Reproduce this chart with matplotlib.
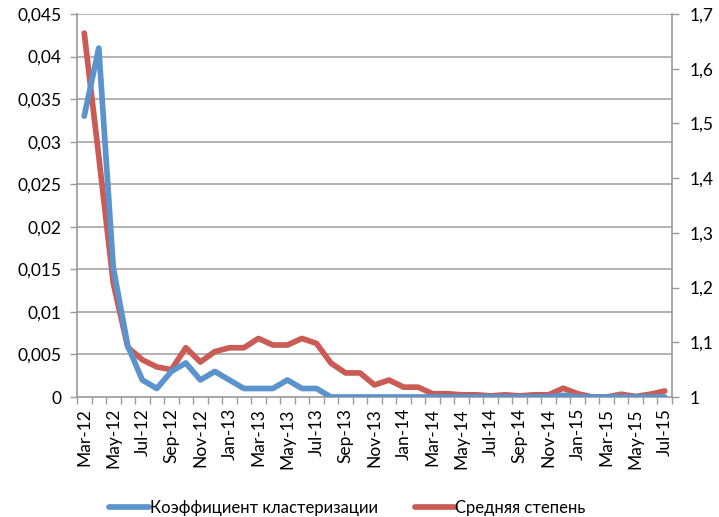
import matplotlib
matplotlib.use("Agg")
import matplotlib.pyplot as plt
import numpy as np

plt.rcParams['font.family'] = ['Lato', 'DejaVu Sans']

months = ["Mar-12", "Apr-12", "May-12", "Jun-12", "Jul-12", "Aug-12", "Sep-12", "Oct-12",
          "Nov-12", "Dec-12", "Jan-13", "Feb-13", "Mar-13", "Apr-13", "May-13", "Jun-13",
          "Jul-13", "Aug-13", "Sep-13", "Oct-13", "Nov-13", "Dec-13", "Jan-14", "Feb-14",
          "Mar-14", "Apr-14", "May-14", "Jun-14", "Jul-14", "Aug-14", "Sep-14", "Oct-14",
          "Nov-14", "Dec-14", "Jan-15", "Feb-15", "Mar-15", "Apr-15", "May-15", "Jun-15",
          "Jul-15"]

clustering = [0.033, 0.041, 0.0152, 0.006, 0.002, 0.001, 0.003, 0.004,
              0.002, 0.003, 0.002, 0.001, 0.001, 0.001, 0.002, 0.001,
              0.001, 0.0, 0.0, 0.0, 0.0, 0.0, 0.0, 0.0,
              0.0, 0.0, 0.0, 0.0, 0.0, 0.0, 0.0, 0.0,
              0.0, 0.0002, 0.0, 0.0, 0.0, 0.0, 0.0, 0.0,
              0.0]

avg_degree = [1.665, 1.44, 1.208, 1.091, 1.068, 1.055, 1.05, 1.09,
              1.064, 1.083, 1.09, 1.09, 1.107, 1.095, 1.095, 1.107,
              1.098, 1.062, 1.044, 1.044, 1.022, 1.031, 1.018, 1.018,
              1.006, 1.006, 1.004, 1.004, 1.002, 1.004, 1.002, 1.004,
              1.004, 1.016, 1.006, 1.0, 1.0, 1.005, 1.001, 1.005,
              1.011]

left_ticks = [0, 0.005, 0.01, 0.015, 0.02, 0.025, 0.03, 0.035, 0.04, 0.045]
left_labels = ["0", "0,005", "0,01", "0,015", "0,02", "0,025", "0,03", "0,035", "0,04", "0,045"]
right_ticks = [1, 1.1, 1.2, 1.3, 1.4, 1.5, 1.6, 1.7]
right_labels = ["1", "1,1", "1,2", "1,3", "1,4", "1,5", "1,6", "1,7"]

name_blue = "Коэффициент кластеризации"
name_red = "Средняя степень"

blue = "#5B93CC"
red = "#CB5B55"
grid_c = "#A6A6A6"
axis_c = "#9A9A9A"

fig = plt.figure(figsize=(7.19, 5.17), dpi=100)
ax = fig.add_axes([77/719, 1-397/517, (672-77)/719, (397-14)/517])
ax2 = ax.twinx()

x = np.arange(len(months))
n = len(months)

l2, = ax2.plot(x, avg_degree, color=red, lw=4.1, solid_joinstyle='round', solid_capstyle='round', zorder=2)
ax2.set_zorder(1)
ax.set_zorder(2)
ax.patch.set_visible(False)
l1, = ax.plot(x, clustering, color=blue, lw=4.1, solid_joinstyle='round', solid_capstyle='round', zorder=3)

ax.set_xlim(-0.5, n - 0.5)
ax.set_ylim(0, 0.045)
ax2.set_ylim(1, 1.7)

ax.set_yticks(left_ticks)
ax.set_yticklabels(left_labels)
ax2.set_yticks(right_ticks)
ax2.set_yticklabels(right_labels)

ax.set_xticks(x[::2])
ax.set_xticklabels(months[::2], rotation=90)
ax.set_xticks(np.arange(-0.5, n, 1.0), minor=True)
ax.tick_params(axis='x', which='major', length=0, pad=8, labelsize=12.5, colors='black')
ax.tick_params(axis='x', which='minor', length=5, color=axis_c, width=1)

ax.tick_params(axis='y', which='major', length=5, color=axis_c, width=1, labelsize=12.5, pad=6)
ax2.tick_params(axis='y', which='major', length=5, color=axis_c, width=1, labelsize=12.5, pad=8)

# gridlines on ax2 background layer
for t in left_ticks[1:]:
    ax2.axhline(1 + (t / 0.045) * 0.7, color=grid_c, lw=1.2, zorder=0)

for a in (ax, ax2):
    for s in a.spines.values():
        s.set_visible(False)
ax.spines['left'].set_visible(True)
ax.spines['left'].set_color(axis_c)
ax.spines['bottom'].set_visible(True)
ax.spines['bottom'].set_color(axis_c)
ax2.spines['right'].set_visible(True)
ax2.spines['right'].set_color(axis_c)
for s in ('left', 'bottom'):
    ax.spines[s].set_linewidth(1.2)
ax2.spines['right'].set_linewidth(1.2)

leg = fig.legend([l1, l2], [name_blue, name_red], loc='center',
                 bbox_to_anchor=(347.5/719, 1 - 508/517), bbox_transform=fig.transFigure,
                 ncol=2, frameon=False, fontsize=12, handlelength=2.4, handletextpad=0.05,
                 columnspacing=2.2, borderaxespad=0)

fig.savefig("out.png", dpi=100)
